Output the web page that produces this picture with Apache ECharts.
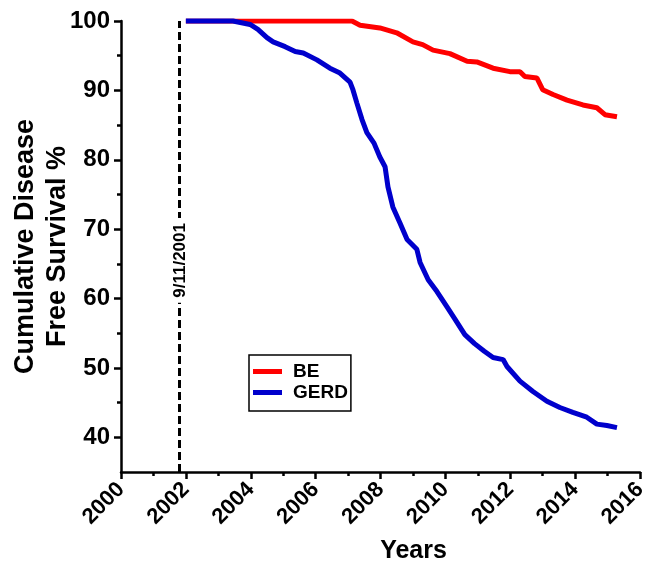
<!DOCTYPE html>
<html>
<head>
<meta charset="utf-8">
<script src="https://cdn.jsdelivr.net/npm/echarts@6/dist/echarts.min.js"></script>
<style>
html,body{margin:0;padding:0;background:#fff;}
#chart{width:649px;height:562px;}
</style>
</head>
<body>
<div id="chart"></div>
<script>
// ---- data ----
const beYears   = [2002.0, 2007.12, 2007.37, 2007.98, 2008.5, 2009.0, 2009.3, 2009.62, 2010.14, 2010.67, 2010.97, 2011.47, 2011.99, 2012.30, 2012.45, 2012.82, 2013.0, 2013.32, 2013.75, 2014.24, 2014.67, 2014.92, 2015.29];
const beValues  = [100, 100, 99.4, 99.0, 98.3, 97.0, 96.6, 95.8, 95.3, 94.2, 94.1, 93.2, 92.7, 92.7, 92.0, 91.8, 90.1, 89.4, 88.6, 87.9, 87.5, 86.5, 86.2];
const gerdYears  = [2002.0, 2003.45, 2003.98, 2004.22, 2004.5, 2004.69, 2005.06, 2005.37, 2005.62, 2006.04, 2006.44, 2006.75, 2007.06, 2007.15, 2007.27, 2007.43, 2007.58, 2007.8, 2007.98, 2008.14, 2008.23, 2008.38, 2008.6, 2008.82, 2009.12, 2009.22, 2009.47, 2009.74, 2010.05, 2010.3, 2010.6, 2010.9, 2011.2, 2011.47, 2011.78, 2011.9, 2012.3, 2012.7, 2013.13, 2013.53, 2013.93, 2014.36, 2014.67, 2014.98, 2015.29];
const gerdValues = [100, 100, 99.5, 98.8, 97.6, 97.0, 96.3, 95.6, 95.4, 94.4, 93.2, 92.5, 91.2, 90.1, 88.2, 85.8, 83.9, 82.4, 80.4, 79.0, 76.1, 73.2, 70.9, 68.5, 67.1, 65.2, 62.7, 61.0, 58.8, 57.0, 54.8, 53.5, 52.4, 51.5, 51.2, 50.2, 48.1, 46.6, 45.2, 44.3, 43.6, 42.9, 41.9, 41.7, 41.4];
const seriesNames = ['BE', 'GERD'];
const eventYear = 2001.8;
const eventLabel = '9/11/2001';
const yMajorTicks = [40, 50, 60, 70, 80, 90, 100];
const yMinorTicks = [45, 55, 65, 75, 85, 95];
const xAxisTitle = 'Years';
const yAxisTitle = 'Cumulative Disease\nFree Survival %';

const FONT = '"Liberation Sans", Arial, sans-serif';
const zip = (xs, ys) => xs.map((x, i) => [x, ys[i]]);

const chart = echarts.init(document.getElementById('chart'), null, {renderer: 'canvas'});
chart.setOption({
  animation: false,
  backgroundColor: '#fff',
  grid: {left: 121, right: 9, top: 21, bottom: 90, containLabel: false, outerBoundsMode: 'none'},
  legend: {
    data: seriesNames,
    orient: 'vertical',
    left: 249, top: 355,
    padding: [6, 3, 8, 4],
    itemGap: 0,
    itemWidth: 29, itemHeight: 5,
    icon: 'rect',
    borderColor: '#000', borderWidth: 1.5,
    textStyle: {fontFamily: FONT, fontWeight: 'bold', fontSize: 19, color: '#000', lineHeight: 21, padding: [0, 0, 0, 6]}
  },
  xAxis: {
    type: 'value', min: 2000, max: 2016, interval: 2,
    name: xAxisTitle, nameLocation: 'middle', nameGap: 67, nameMoveOverlap: false,
    nameTextStyle: {fontFamily: FONT, fontWeight: 'bold', fontSize: 25, color: '#000', padding: [0, 0, 0, 66]},
    axisLine: {lineStyle: {color: '#000', width: 2.5}},
    axisTick: {length: 7, lineStyle: {color: '#000', width: 2.5}},
    minorTick: {show: true, splitNumber: 2, length: 4, lineStyle: {color: '#000', width: 2.5}},
    splitLine: {show: false},
    axisLabel: {rotate: 45, margin: 14, fontFamily: FONT, fontWeight: 'bold', fontSize: 22, color: '#000',
      formatter: v => String(Math.round(v))}
  },
  yAxis: [{
    type: 'value', min: 35, max: 100, interval: 5,
    name: yAxisTitle, nameLocation: 'middle', nameGap: 47, nameMoveOverlap: false,
    nameTextStyle: {fontFamily: FONT, fontWeight: 'bold', fontSize: 27, color: '#000', lineHeight: 32},
    axisLine: {show: true, lineStyle: {color: '#000', width: 2.5}},
    axisTick: {show: true, customValues: yMajorTicks, length: 7, lineStyle: {color: '#000', width: 2.5}},
    splitLine: {show: false},
    axisLabel: {customValues: yMajorTicks, margin: 11, fontFamily: FONT, fontWeight: 'bold', fontSize: 24, color: '#000'}
  }, {
    type: 'value', min: 35, max: 100, interval: 5, position: 'left',
    axisLine: {show: false},
    axisTick: {show: true, customValues: yMinorTicks, length: 4, lineStyle: {color: '#000', width: 2.5}},
    axisLabel: {show: false},
    splitLine: {show: false}
  }],
  series: [{
    name: seriesNames[0], type: 'line', yAxisIndex: 0,
    data: zip(beYears, beValues),
    showSymbol: false, symbol: 'none',
    color: '#ff0000',
    lineStyle: {color: '#ff0000', width: 5},
    markLine: {
      silent: true, symbol: 'none',
      lineStyle: {color: '#000', width: 3, type: [8, 4]},
      label: {show: false},
      data: [
        [{coord: [eventYear, 35]}, {coord: [eventYear, 100]}],
        [{coord: [eventYear, 35], lineStyle: {color: 'rgba(0,0,0,0)', width: 0.1},
          label: {show: true, position: 'middle', distance: -9, formatter: eventLabel, fontFamily: FONT,
                  fontSize: 17, fontWeight: 'bold', color: '#000', backgroundColor: '#fff', padding: [0, 5]}},
         {coord: [eventYear, 96]}]
      ]
    }
  }, {
    name: seriesNames[1], type: 'line', yAxisIndex: 0,
    data: zip(gerdYears, gerdValues),
    showSymbol: false, symbol: 'none', clip: false,
    color: '#0000cc',
    lineStyle: {color: '#0000cc', width: 5}
  }]
});
</script>
</body>
</html>
